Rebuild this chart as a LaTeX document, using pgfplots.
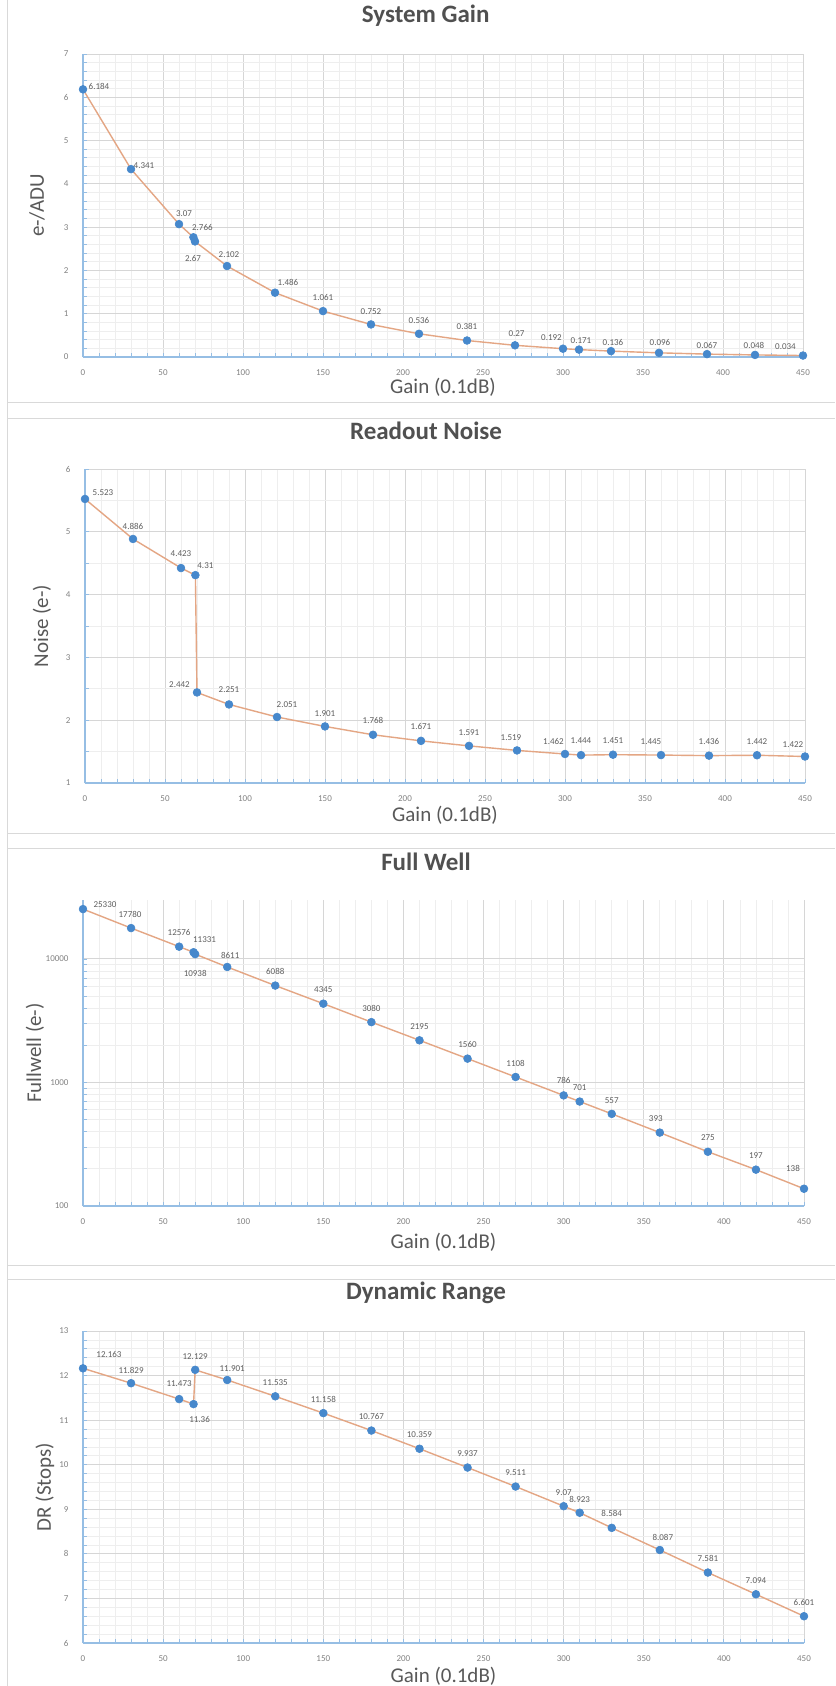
\documentclass[border=0pt]{standalone}
\usepackage{fontspec}
\setmainfont{Carlito}
\usepackage{pgfplots}
\usepackage{pgfplotstable}
\pgfplotsset{compat=1.18}

\definecolor{ptblue}{RGB}{70,136,204}
\definecolor{linecol}{RGB}{228,166,132}
\definecolor{gridmaj}{RGB}{214,214,214}
\definecolor{gridmin}{RGB}{238,238,238}
\definecolor{axblue}{RGB}{150,190,228}
\definecolor{titlegray}{RGB}{80,80,80}
\definecolor{labgray}{RGB}{89,89,89}
\definecolor{tickgray}{RGB}{130,130,130}
\definecolor{datagray}{RGB}{95,95,95}
\definecolor{sepgray}{RGB}{217,217,217}

\newcommand\titlefont{\fontsize{12.5}{14}\selectfont\bfseries}
\newcommand\labfont{\fontsize{10.5}{12}\selectfont}
\newcommand\tickfont{\fontsize{4.5}{5}\selectfont}
\newcommand\datafont{\fontsize{4.5}{5}\selectfont}

\pgfplotstableread{
x y lbl lx ly
0 6.184 6.184 8 1.5
30 4.341 4.341 6.5 1.5
60 3.07 3.07 2.5 5.5
69 2.766 2.766 4.5 5
70 2.67 2.67 -1 -8.5
90 2.102 2.102 1 5.5
120 1.486 1.486 6.5 5
150 1.061 1.061 0 7
180 0.752 0.752 0 6.5
210 0.536 0.536 0 6.5
240 0.381 0.381 0 7
270 0.27 0.27 0.75 6
300 0.192 0.192 -5.75 5.5
310 0.171 0.171 1 4.5
330 0.136 0.136 1 4.5
360 0.096 0.096 0.5 5
390 0.067 0.067 0 4.5
420 0.048 0.048 -0.5 4.5
450 0.034 0.034 -8.75 4.5
}\gaindata

\pgfplotstableread{
x y lbl lx ly
0 5.523 5.523 9 3
30 4.886 4.886 0 6.5
60 4.423 4.423 0 7
69 4.31 4.31 5 5
70 2.442 2.442 -8.75 4
90 2.251 2.251 0 7.5
120 2.051 2.051 5 6
150 1.901 1.901 0 6.5
180 1.768 1.768 0 7
210 1.671 1.671 0 7
240 1.591 1.591 0 6.5
270 1.519 1.519 -3 6.5
300 1.462 1.462 -5.75 6
310 1.444 1.444 0 7
330 1.451 1.451 0 7
360 1.445 1.445 -5 6.5
390 1.436 1.436 0 7
420 1.442 1.442 0 7
450 1.422 1.422 -6 6
}\noisedata

\pgfplotstableread{
x y lbl lx ly
0 25330 25330 11 2
30 17780 17780 -0.5 7
60 12576 12576 0 7
69 11331 11331 5.5 6.5
70 10938 10938 0 -9.5
90 8611 8611 1.5 6
120 6088 6088 0 7
150 4345 4345 0 7
180 3080 3080 0 7
210 2195 2195 0 7
240 1560 1560 0 7
270 1108 1108 0 7
300 786 786 0 7.5
310 701 701 0 7
330 557 557 0 6.5
360 393 393 -2 7
390 275 275 0 7
420 197 197 0 7
450 138 138 -5.5 10
}\fwdata

\pgfplotstableread{
x y lbl lx ly
0 12.163 12.163 13 7
30 11.829 11.829 0 6.5
60 11.473 11.473 0 7.5
69 11.36 11.36 3 -7.5
70 12.129 12.129 0 6.5
90 11.901 11.901 2.5 5.5
120 11.535 11.535 0 7
150 11.158 11.158 0 7
180 10.767 10.767 0 7
210 10.359 10.359 0 7
240 9.937 9.937 0 7
270 9.511 9.511 0 7
300 9.07 9.07 0 7
310 8.923 8.923 0 6.5
330 8.584 8.584 0 7
360 8.087 8.087 1.5 6.5
390 7.581 7.581 0 7
420 7.094 7.094 0 7
450 6.601 6.601 0 7
}\drdata

\pgfplotsset{
  panel/.style={
    scale only axis,
    anchor=south west,
    xmin=0, xmax=450,
    xtick={0,50,...,450},
    minor x tick num=4,
    grid=both,
    major grid style={draw=gridmaj, line width=0.45pt},
    minor grid style={draw=gridmin, line width=0.4pt},
    axis x line*=bottom,
    axis y line*=left,
    axis line style={draw=axblue, line width=0.6pt, -},
    tick style={draw=axblue, line width=0.4pt},
    tick align=inside,
    major tick length=2pt,
    minor tick length=2pt,
    ticklabel style={font=\tickfont, text=tickgray},
    xticklabel style={yshift=-3pt},
    yticklabel style={xshift=-3.7pt},
    /pgf/number format/assume math mode=true,
    /pgf/number format/1000 sep={},
    title style={font=\titlefont, text=titlegray, anchor=center},
    xlabel style={font=\labfont, text=labgray, anchor=center},
    ylabel style={font=\labfont, text=labgray, anchor=center},
    xlabel={Gain (0.1dB)},
    clip=false,
  },
  series/.style={
    color=linecol, line width=0.7pt,
    mark=*, mark size=1.95pt,
    mark options={draw=ptblue, fill=ptblue, line width=0.3pt},
    nodes near coords,
    point meta=explicit symbolic,
    visualization depends on={\thisrow{lx}\as\labx},
    visualization depends on={\thisrow{ly}\as\laby},
    every node near coord/.append style={font=\datafont, text=datagray,
      anchor=center, inner sep=0pt, xshift=\labx pt, yshift=\laby pt},
  },
}

\begin{document}
\begin{tikzpicture}
\path[use as bounding box, fill=white] (0pt,0pt) rectangle (417.5pt,-843pt);
% panel frames
\draw[sepgray, line width=0.5pt] (3.5pt,0pt) -- (3.5pt,-843pt);
\foreach \yy in {201,209,416.5,424,632.5,639.5}{
  \draw[sepgray, line width=0.5pt] (3.5pt,-\yy pt) -- (417.5pt,-\yy pt);
}

% System Gain
\begin{axis}[panel,
  at={(41.5pt,-178.5pt)}, width=360pt, height=151.5pt,
  ymin=0, ymax=7, ytick={0,1,...,7}, minor y tick num=4,
  title={System Gain},
  title style={at={(axis description cs:0.476,1.086)}},
  xlabel style={at={(axis description cs:0.5,-0.1007)}},
  ylabel={e-/ADU},
  ylabel style={at={(axis description cs:-0.064,0.5)}},
]
\addplot[series] table[x=x, y=y, meta=lbl] {\gaindata};
\end{axis}

% Readout Noise
\begin{axis}[panel,
  at={(42.5pt,-391.5pt)}, width=360pt, height=157pt,
  ymin=1, ymax=6, ytick={1,2,...,6}, minor y tick num=1,
  title={Readout Noise},
  title style={at={(axis description cs:0.4736,1.0828)}},
  xlabel style={at={(axis description cs:0.5,-0.1019)}},
  ylabel={Noise (e-)},
  ylabel style={at={(axis description cs:-0.0597,0.5)}},
]
\addplot[series] table[x=x, y=y, meta=lbl] {\noisedata};
\end{axis}

% Full Well
\begin{axis}[panel,
  at={(41.5pt,-603pt)}, width=360.5pt, height=153pt,
  ymode=log, ymin=100, ymax=30000,
  ytick={100,1000,10000}, yticklabels={100,1000,10000},
  title={Full Well},
  title style={at={(axis description cs:0.4757,1.085)}},
  xlabel style={at={(axis description cs:0.5,-0.1176)}},
  ylabel={Fullwell (e-)},
  ylabel style={at={(axis description cs:-0.0666,0.5)}},
]
\addplot[series] table[x=x, y=y, meta=lbl] {\fwdata};
\end{axis}

% Dynamic Range
\begin{axis}[panel,
  at={(41.5pt,-821.5pt)}, width=360.5pt, height=156pt,
  ymin=6, ymax=13, ytick={6,7,...,13}, minor y tick num=4,
  title={Dynamic Range},
  title style={at={(axis description cs:0.4757,1.0833)}},
  xlabel style={at={(axis description cs:0.5,-0.1058)}},
  ylabel={DR (Stops)},
  ylabel style={at={(axis description cs:-0.0527,0.5)}},
]
\addplot[series] table[x=x, y=y, meta=lbl] {\drdata};
\end{axis}
\end{tikzpicture}
\end{document}
